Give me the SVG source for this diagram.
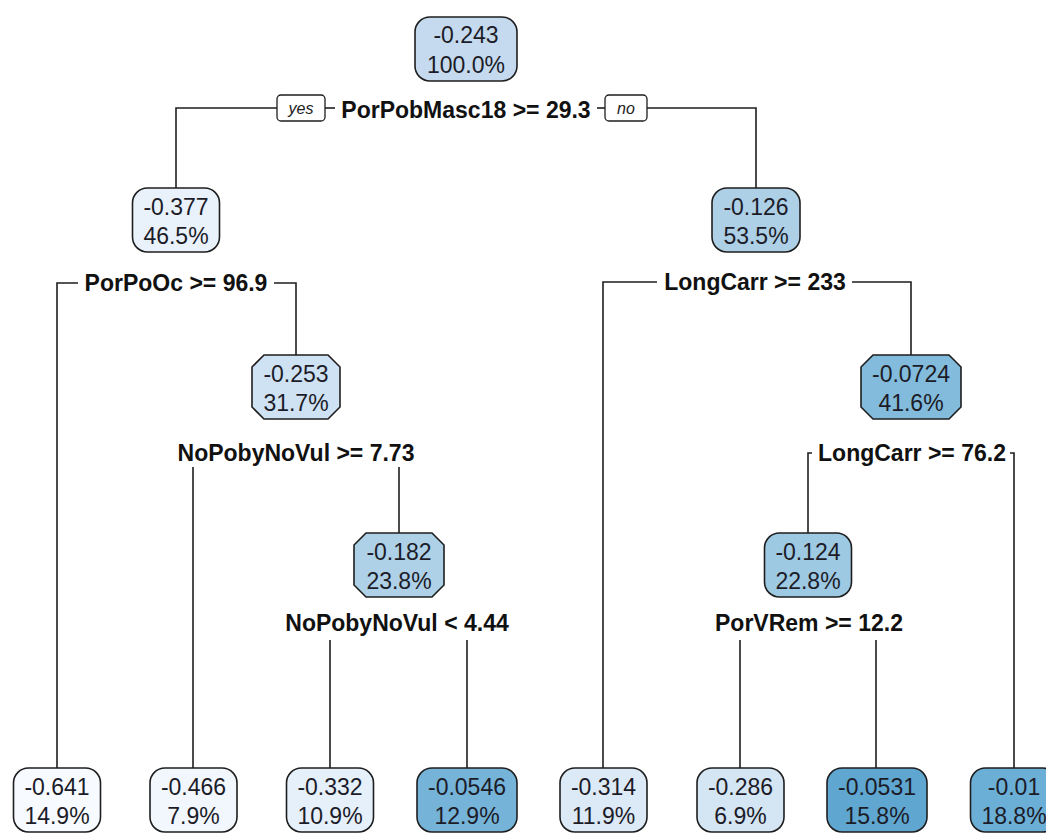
<svg xmlns="http://www.w3.org/2000/svg" width="1046" height="833" viewBox="0 0 1046 833">
<style>
.box{stroke:#1e1e1e;stroke-width:1.6}
.nt{font-family:"Liberation Sans",Arial,sans-serif;font-size:23px;fill:#1c1c28;text-anchor:middle}
.st{font-family:"Liberation Sans",Arial,sans-serif;font-size:23px;font-weight:bold;fill:#111;text-anchor:middle}
.lab{font-family:"Liberation Sans",Arial,sans-serif;font-size:16px;font-style:italic;fill:#222;text-anchor:middle}
.lbox{fill:#fff;stroke:#1e1e1e;stroke-width:1.3}
.conn{fill:none;stroke:#1e1e1e;stroke-width:1.6}
</style>
<rect width="1046" height="833" fill="#fff"/>
<g id="connectors">
<path class="conn" d="M176 188 V108 H277"/>
<path class="conn" d="M325 108 H335"/>
<path class="conn" d="M597 108 H605"/>
<path class="conn" d="M647 108 H756 V188"/>
<path class="conn" d="M57 768 V283 H78"/>
<path class="conn" d="M274 283 H296 V355"/>
<path class="conn" d="M603 768 V282 H657"/>
<path class="conn" d="M852 282 H911 V355"/>
<path class="conn" d="M193 467 V768"/>
<path class="conn" d="M399 467 V533"/>
<path class="conn" d="M808 533 V453 H812"/>
<path class="conn" d="M1010 453 H1014 V768"/>
<path class="conn" d="M330 640 V768"/>
<path class="conn" d="M467 640 V768"/>
<path class="conn" d="M740 640 V768"/>
<path class="conn" d="M876 640 V768"/>
<rect class="lbox" x="277" y="95" width="48" height="26" rx="4"/>
<text class="lab" x="301" y="114">yes</text>
<rect class="lbox" x="605" y="95" width="42" height="26" rx="4"/>
<text class="lab" x="626" y="114">no</text>
</g>
<g id="split-labels">
<text class="st" x="466" y="118">PorPobMasc18 &gt;= 29.3</text>
<text class="st" x="176" y="291">PorPoOc &gt;= 96.9</text>
<text class="st" x="755" y="290">LongCarr &gt;= 233</text>
<text class="st" x="296" y="461">NoPobyNoVul &gt;= 7.73</text>
<text class="st" x="912" y="461">LongCarr &gt;= 76.2</text>
<text class="st" x="397" y="631">NoPobyNoVul &lt; 4.44</text>
<text class="st" x="809" y="631">PorVRem &gt;= 12.2</text>
</g>
<g id="n1"><rect class="box" x="415" y="17" width="102" height="64" rx="15" fill="#c5daee"/><text class="nt" x="466" y="43">-0.243</text><text class="nt" x="466" y="73">100.0%</text></g>
<g id="n2"><rect class="box" x="132.5" y="188" width="87" height="64" rx="15" fill="#e9f2fb"/><text class="nt" x="176" y="215">-0.377</text><text class="nt" x="176" y="244">46.5%</text></g>
<g id="n3"><rect class="box" x="712" y="188" width="88" height="64" rx="15" fill="#add0e7"/><text class="nt" x="756" y="215">-0.126</text><text class="nt" x="756" y="244">53.5%</text></g>
<g id="n7"><polygon class="box" points="264,355 328,355 340,367 340,407 328,419 264,419 252,407 252,367" fill="#cfe2f3"/><text class="nt" x="296" y="382">-0.253</text><text class="nt" x="296" y="411">31.7%</text></g>
<g id="n6"><polygon class="box" points="873,355 949,355 961,367 961,407 949,419 873,419 861,407 861,367" fill="#82bbdb"/><text class="nt" x="911" y="382">-0.0724</text><text class="nt" x="911" y="411">41.6%</text></g>
<g id="n15"><polygon class="box" points="366,533 432,533 444,545 444,585 432,597 366,597 354,585 354,545" fill="#aed1e7"/><text class="nt" x="399" y="560">-0.182</text><text class="nt" x="399" y="589">23.8%</text></g>
<g id="n12"><rect class="box" x="764.5" y="533" width="87" height="64" rx="15" fill="#9ec9e2"/><text class="nt" x="808" y="560">-0.124</text><text class="nt" x="808" y="589">22.8%</text></g>
<g id="leaf1"><rect class="box" x="13.5" y="768" width="87" height="64" rx="15" fill="#f7fbff"/><text class="nt" x="57" y="795">-0.641</text><text class="nt" x="57" y="824">14.9%</text></g>
<g id="leaf2"><rect class="box" x="150" y="768" width="87" height="64" rx="15" fill="#f1f7fd"/><text class="nt" x="193.5" y="795">-0.466</text><text class="nt" x="193.5" y="824">7.9%</text></g>
<g id="leaf3"><rect class="box" x="286.5" y="768" width="87" height="64" rx="15" fill="#e6f0fa"/><text class="nt" x="330" y="795">-0.332</text><text class="nt" x="330" y="824">10.9%</text></g>
<g id="leaf4"><rect class="box" x="417" y="768" width="100" height="64" rx="15" fill="#75b3d9"/><text class="nt" x="467" y="795">-0.0546</text><text class="nt" x="467" y="824">12.9%</text></g>
<g id="leaf5"><rect class="box" x="560" y="768" width="87" height="64" rx="15" fill="#dce9f6"/><text class="nt" x="603.5" y="795">-0.314</text><text class="nt" x="603.5" y="824">11.9%</text></g>
<g id="leaf6"><rect class="box" x="697" y="768" width="87" height="64" rx="15" fill="#d4e5f4"/><text class="nt" x="740.5" y="795">-0.286</text><text class="nt" x="740.5" y="824">6.9%</text></g>
<g id="leaf7"><rect class="box" x="827" y="768" width="100" height="64" rx="15" fill="#5fa6d1"/><text class="nt" x="877" y="795">-0.0531</text><text class="nt" x="877" y="824">15.8%</text></g>
<g id="leaf8"><rect class="box" x="970.5" y="768" width="87" height="64" rx="15" fill="#6bafd7"/><text class="nt" x="1014" y="795">-0.01</text><text class="nt" x="1014" y="824">18.8%</text></g>
</svg>
